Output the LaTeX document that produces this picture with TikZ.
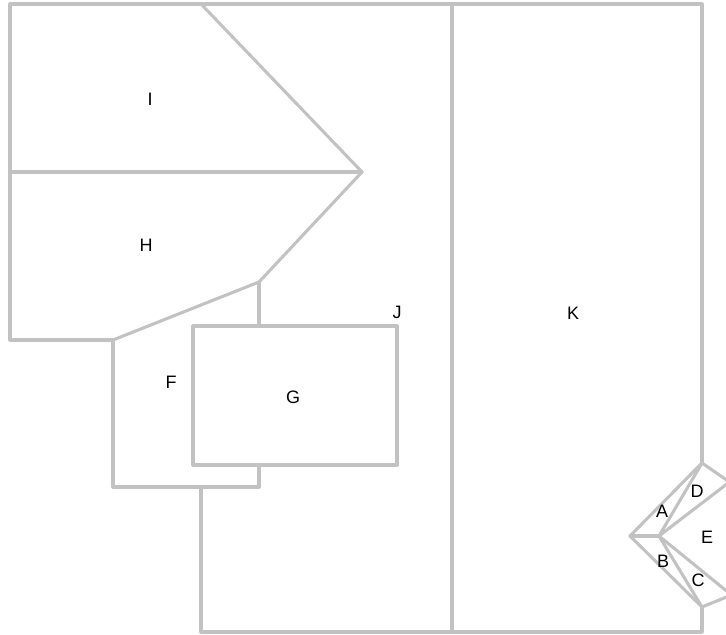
\documentclass[tikz,border=0pt]{standalone}
\usepackage{fontspec}
\setmainfont{Liberation Sans}
\begin{document}
\begin{tikzpicture}[x=0.75pt,y=-0.75pt,
  wall/.style={draw=black!24, line width=2.3pt, line join=round, line cap=round},
  lbl/.style={font=\fontsize{13.5}{15}\selectfont, text=black, inner sep=0pt}]
\useasboundingbox (0,0) rectangle (726,635);
\clip (0,0) rectangle (726,635);
% outer and partitions
\draw[wall] (10,4) -- (702,4) -- (702,463);
\draw[wall] (10,4) -- (10,340) -- (113,340) -- (113,487) -- (259,487) -- (259,465);
\draw[wall] (201,4) -- (362,172) -- (259,282) -- (113,340);
\draw[wall] (10,172) -- (362,172);
\draw[wall] (259,282) -- (259,326);
\draw[wall] (193,326) rectangle (397,465);
\draw[wall] (201,487) -- (201,632) -- (702,632) -- (702,607);
\draw[wall] (452,4) -- (452,632);
% small pieces at right
\coordinate (top) at (702,463);
\coordinate (bot) at (702,607);
\coordinate (tip) at (630,536);
\coordinate (inn) at (659,536);
\coordinate (ru) at (729.5,482);
\coordinate (rd) at (731.5,595);
\draw[wall] (top) -- (tip) -- (bot);
\draw[wall] (tip) -- (inn);
\draw[wall] (top) -- (inn) -- (bot);
\draw[wall] (top) -- (ru) -- (inn) -- (rd) -- (bot);
% labels
\node[lbl] (I) at (150,99) {I};
\node[lbl] (H) at (146,245) {H};
\node[lbl] (J) at (397,312) {J};
\node[lbl] (K) at (573,313) {K};
\node[lbl] (F) at (171,382) {F};
\node[lbl] (G) at (293,397) {G};
\node[lbl] (A) at (662,511) {A};
\node[lbl] (D) at (697,491) {D};
\node[lbl] (E) at (707,537) {E};
\node[lbl] (B) at (663,561) {B};
\node[lbl] (C) at (698,580) {C};
\end{tikzpicture}
\end{document}
